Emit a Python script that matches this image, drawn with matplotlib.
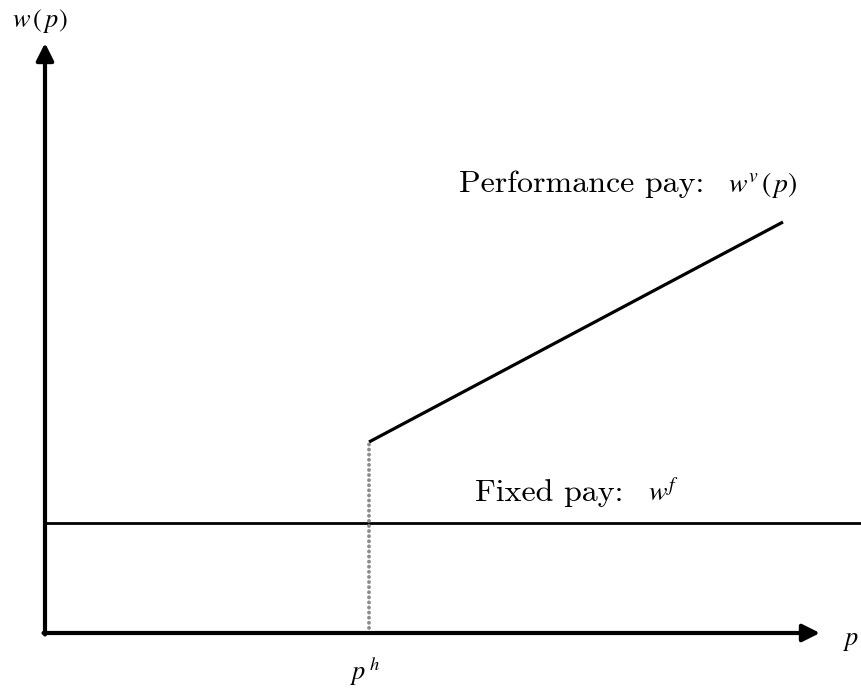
import matplotlib
matplotlib.use("Agg")
import matplotlib.pyplot as plt

# Conceptual values (origin of the diagram at 0,0)
p_h = 324            # threshold productivity p^h
w_fixed = 110        # fixed wage level w^f
perf_p = [324, 738]  # performance pay segment, p values
perf_w = [191, 411]  # performance pay segment, w values
p_max = 775          # end of p axis arrow
w_max = 590          # end of w axis arrow
fixed_p_end = 816

fig = plt.figure(figsize=(8.61, 6.91), dpi=100)
ax = fig.add_axes([0, 0, 1, 1])
ax.set_xlim(-45, 816)
ax.set_ylim(-58, 633)
ax.axis("off")

# axes with arrows
arrow_kw = dict(arrowstyle="-|>", lw=3, color="black", mutation_scale=26,
                shrinkA=0, shrinkB=0)
ax.annotate("", xy=(p_max, 0), xytext=(-1.5, 0), arrowprops=arrow_kw)
ax.annotate("", xy=(0, w_max), xytext=(0, -1.5), arrowprops=arrow_kw)

# fixed pay line
ax.plot([0, fixed_p_end], [w_fixed, w_fixed], color="black", lw=2.0,
        solid_capstyle="butt")

# performance pay line
ax.plot(perf_p, perf_w, color="black", lw=2.3, solid_capstyle="butt")

# dotted vertical at p^h
ax.plot([p_h, p_h], [0, perf_w[0]], color="#8c8c8c", lw=2.8,
        linestyle=(0, (0.01, 1.3)), dash_capstyle="round")

# labels
roman = dict(fontfamily="cmr10", fontsize=23, ha="left", va="baseline")
ital = dict(math_fontfamily="stix", ha="left", va="baseline")

ax.text(414, 441, "Performance pay:", **roman)
ax.text(683, 441, r"$w^{v}\,(\,p)$", fontsize=20, **ital)

ax.text(430, 132, "Fixed pay:", **roman)
ax.text(603, 132, r"$w^{f}$", fontsize=20, **ital)

ax.text(-33, 606, r"$w\,(\,p)$", fontsize=19, **ital)
ax.text(798, -12, r"$p$", fontsize=19, **ital)
ax.text(305, -47, r"$p^{\,h}$", fontsize=19, **ital)

fig.savefig("out.png", dpi=100, facecolor="white")
